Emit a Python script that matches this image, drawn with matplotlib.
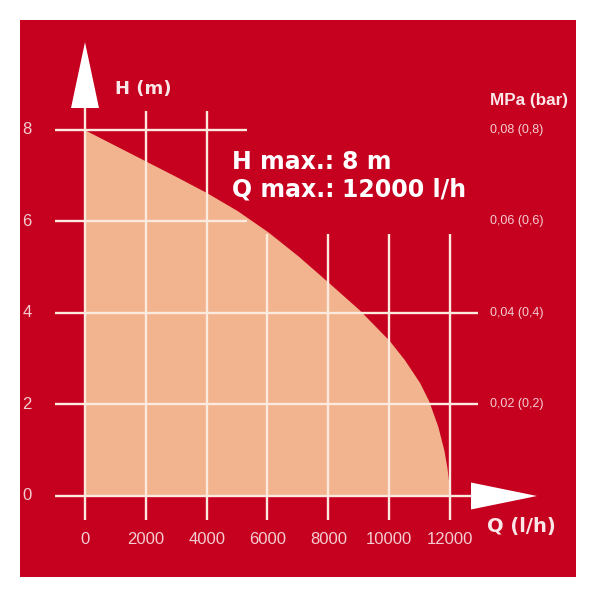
import matplotlib
matplotlib.use('Agg')
import matplotlib.pyplot as plt
from matplotlib.patches import Rectangle, Polygon
from matplotlib import font_manager as fm

# ---- data ----
flow = [0, 1000, 2000, 3000, 4000, 5000, 6000, 7000, 8000, 9000, 10000,
        10500, 11000, 11300, 11600, 11800, 11900, 11960, 11985]
head = [8.0, 7.66, 7.32, 6.98, 6.63, 6.24, 5.78, 5.25, 4.67, 4.08, 3.40,
        2.98, 2.48, 2.08, 1.52, 1.00, 0.62, 0.28, 0.0]

q_ticks = [0, 2000, 4000, 6000, 8000, 10000, 12000]
h_ticks = [0, 2, 4, 6, 8]
p_labels = ["0,02 (0,2)", "0,04 (0,4)", "0,06 (0,6)", "0,08 (0,8)"]
p_ticks = [2, 4, 6, 8]

title_lines = [("H max.:", "8 m"), ("Q max.:", "12000 l/h")]

# ---- styles ----
RED = '#C6001F'
PEACH = '#F2B48E'
LINE = '#FCEADF'
TXT = '#FBE6E8'
TICK = '#F4CDD2'

names = {f.name for f in fm.fontManager.ttflist}
if 'Liberation Sans Narrow' in names:
    NARROW = ['Liberation Sans Narrow', 'DejaVu Sans']
    fs_tick, fs_right, fs_mpa = 13, 10.5, 14
else:
    NARROW = ['Liberation Sans', 'DejaVu Sans']
    fs_tick, fs_right, fs_mpa = 12, 9, 12.3

fig = plt.figure(figsize=(5.95, 5.95), dpi=100, facecolor='white')
ax = fig.add_axes([0, 0, 1, 1])
ax.axis('off')
ax.set_xlim(-2794, 16767)
ax.set_ylim(-2.164, 10.841)

# red panel
ax.add_patch(Rectangle((0.0336, 0.0303), 0.934, 0.936, transform=fig.transFigure,
                       facecolor=RED, edgecolor='none', zorder=0))

# area under the pump curve
ax.fill_between(flow, head, 0, color=PEACH, linewidth=0, zorder=1)

lw = 1.7
# horizontal grid lines
for h in h_ticks:
    if h == 0:
        x1 = 12690
    elif h >= 6:
        x1 = 5326
    else:
        x1 = 12920
    ax.plot([-986, x1], [h, h], color=LINE, lw=lw, zorder=2, solid_capstyle='butt')

# vertical grid lines
for q in q_ticks:
    if q == 0:
        top = 8.48
    elif q <= 4000:
        top = 8.42
    else:
        top = 5.73
    ax.plot([q, q], [-0.525, top], color=LINE, lw=lw, zorder=2, solid_capstyle='butt')

# arrows
ax.add_patch(Polygon([[-460, 8.48], [460, 8.48], [0, 9.92]], closed=True,
                     facecolor='white', edgecolor='none', zorder=3))
ax.add_patch(Polygon([[12690, 0.295], [12690, -0.295], [14860, 0]], closed=True,
                     facecolor='white', edgecolor='none', zorder=3))

# tick labels
for q in q_ticks:
    ax.text(q, -0.945, f"{q}", ha='center', va='center', color=TICK,
            fontsize=fs_tick, family=NARROW, zorder=4)
for h in h_ticks:
    ax.text(-1907, h, f"{h}", ha='center', va='center', color=TICK,
            fontsize=fs_tick, family=NARROW, zorder=4)
for p, lab in zip(p_ticks, p_labels):
    ax.text(13300, p, lab, ha='left', va='center', color=TICK,
            fontsize=fs_right, family=NARROW, zorder=4)

# axis titles
ax.text(990, 8.9, "H (m)", ha='left', va='center', color=TXT,
        fontsize=13, fontweight='bold', family='DejaVu Sans', zorder=4)
ax.text(13300, 8.65, "MPa (bar)", ha='left', va='center', color=TXT,
        fontsize=fs_mpa, fontweight='bold', family=NARROW, zorder=4)
ax.text(13220, -0.67, "Q (l/h)", ha='left', va='center', color=TXT,
        fontsize=14, fontweight='bold', family='DejaVu Sans', zorder=4)

# headline text
for (lab, val), y in zip(title_lines, [7.31, 6.70]):
    ax.text(4833, y, lab, ha='left', va='center', color='white',
            fontsize=17, fontweight='bold', family='DejaVu Sans', zorder=4)
    ax.text(8460, y, val, ha='left', va='center', color='white',
            fontsize=17, fontweight='bold', family='DejaVu Sans', zorder=4)

fig.savefig('out.png', dpi=100, facecolor='white')
